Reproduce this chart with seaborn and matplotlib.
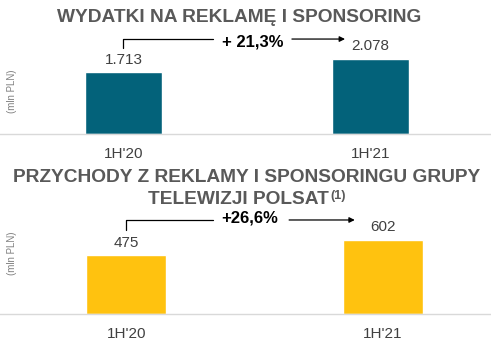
import matplotlib
matplotlib.use("Agg")
import matplotlib.pyplot as plt
import seaborn as sns

sns.set_theme(style="white")
plt.rcParams['font.family'] = ['Liberation Sans', 'DejaVu Sans']

periods = ["1H'20", "1H'21"]
ad_spend = [1.713, 2.078]
ad_spend_labels = ["1.713", "2.078"]
ad_spend_change = "+ 21,3%"
revenue = [475, 602]
revenue_labels = ["475", "602"]
revenue_change = "+26,6%"
title_top = "WYDATKI NA REKLAMĘ I SPONSORING"
title_bottom_1 = "PRZYCHODY Z REKLAMY I SPONSORINGU GRUPY"
title_bottom_2 = "TELEWIZJI POLSAT"
footnote = "(1)"
unit = "(mln PLN)"

TEAL = "#03627A"
YELLOW = "#FFC20F"
GRAY_T = "#595959"
GRAY_L = "#404040"

W, H = 491, 340
fig = plt.figure(figsize=(W / 100, H / 100), dpi=100)


def px_axes(top_px, bottom_px):
    return fig.add_axes([0, (H - bottom_px) / H, 1, (bottom_px - top_px) / H])


def style(ax, xlim, ylim):
    ax.set_xlim(*xlim)
    ax.set_ylim(*ylim)
    for s in ["top", "right", "left"]:
        ax.spines[s].set_visible(False)
    ax.spines["bottom"].set_color("#D9D9D9")
    ax.spines["bottom"].set_linewidth(1.0)
    ax.set_yticks([])
    ax.set_xlabel("")
    ax.set_ylabel("")
    ax.tick_params(axis="x", length=0, pad=9, labelsize=11, labelcolor=GRAY_L)


def growth_arrow(ax, text, x0, y_low, y_high, x_line_end, x_text, y_text, x_arr0, x_arr1):
    tr = ax.get_xaxis_transform()
    ax.plot([x0, x0, x_line_end], [y_low, y_high, y_high], color="black", lw=0.9,
            transform=tr, clip_on=False)
    ax.annotate("", xy=(x_arr1, y_high), xytext=(x_arr0, y_high), xycoords=tr,
                textcoords=tr, arrowprops=dict(arrowstyle="-|>", color="black", lw=0.9,
                                               mutation_scale=8, shrinkA=0, shrinkB=0))
    ax.text(x_text, y_text, text, transform=tr, ha="center", va="center",
            fontsize=12, fontweight="bold", color="black")


# ---- top chart
ax1 = px_axes(30, 134)
sns.barplot(x=periods, y=ad_spend, color=TEAL, width=0.31, saturation=1, ax=ax1)
style(ax1, (-0.5, 1.488), (0, 2.877))
ax1.bar_label(ax1.containers[0], labels=ad_spend_labels, padding=4, fontsize=11, color=GRAY_L)
growth_arrow(ax1, ad_spend_change, 0.0, 0.827, 0.913, 0.362, 0.524, 0.885, 0.682, 0.897)

# ---- bottom chart
ax2 = px_axes(210, 314)
sns.barplot(x=periods, y=revenue, color=YELLOW, width=0.312, saturation=1, ax=ax2)
style(ax2, (-0.493, 1.421), (0, 842))
ax2.bar_label(ax2.containers[0], labels=revenue_labels, padding=4, fontsize=11, color=GRAY_L)
growth_arrow(ax2, revenue_change, 0.0, 0.808, 0.904, 0.337, 0.48, 0.923, 0.634, 0.89)

# ---- titles and unit labels
fig.text(239.5 / W, 1 - 18 / H, title_top, ha="center", va="center", fontsize=13.8,
         fontweight="bold", color=GRAY_T)
fig.text(246.5 / W, 1 - 178 / H, title_bottom_1, ha="center", va="center", fontsize=13.8,
         fontweight="bold", color=GRAY_T)
t2 = fig.text(238.5 / W, 1 - 199 / H, title_bottom_2, ha="center", va="center", fontsize=13.8,
              fontweight="bold", color=GRAY_T)
fig.canvas.draw()
bb = t2.get_window_extent()
fig.text((bb.x1 + 1) / W, 1 - 196 / H, footnote, ha="left", va="center", fontsize=9,
         fontweight="bold", color=GRAY_T)
fig.text(12 / W, 1 - 91 / H, unit, rotation=90, ha="center", va="center", fontsize=7, color="#7F7F7F")
fig.text(12 / W, 1 - 253 / H, unit, rotation=90, ha="center", va="center", fontsize=7, color="#7F7F7F")

fig.savefig("out.png", dpi=100)
